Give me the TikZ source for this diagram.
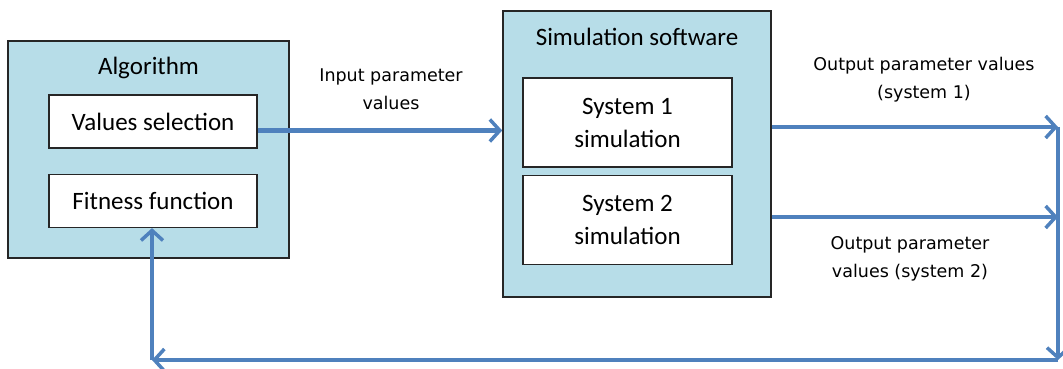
\documentclass[tikz,border=0pt]{standalone}
\usepackage{fontspec}
\setmainfont{Carlito}
\newfontfamily\labelfont{DejaVu Sans}
\usetikzlibrary{positioning}
\usetikzlibrary{calc}
\usetikzlibrary{arrows.meta}

\definecolor{boxblue}{RGB}{183,221,232}
\definecolor{arrowblue}{RGB}{79,129,189}

\begin{document}
\begin{tikzpicture}[x=1pt, y=1pt,
    OUTER/.style={rectangle, draw=black!85, fill=boxblue, line width=1.6pt, inner sep=0pt},
    INNER/.style={rectangle, draw=black!85, fill=white, line width=1.4pt, minimum width=208pt, align=center, inner sep=0pt, font=\fontsize{25}{33}\selectfont},
    TITLE/.style={font=\fontsize{25}{28}\selectfont},
    LBL/.style={align=center, font=\labelfont\fontsize{17.5}{28}\selectfont},
    FLOW/.style={arrowblue, line width=4.5pt, -{Straight Barb[length=10pt,width=22pt,line width=3.5pt]}}]

    \useasboundingbox (0,0) rectangle (1063,369);

    % algorithm block
    \node[OUTER, minimum width=281pt, minimum height=217pt] (alg) at (148.5,219.5) {};
    \node[TITLE] (algT) at (148.5,301) {Algorithm};
    \node[INNER, minimum height=53pt] (vals) at (153,247.5) {Values selection};
    \node[INNER, minimum height=53pt, below = 25pt of vals] (fit) {Fitness function};

    % simulation block
    \node[OUTER, minimum width=268pt, minimum height=286pt] (sim) at (637,215) {};
    \node[TITLE] (simT) at (637,332) {Simulation software};
    \node[INNER, minimum width=209pt, minimum height=89pt] (sys1) at (627.5,246.5)
        {System 1\\simulation};
    \node[INNER, minimum width=209pt, minimum height=89pt, below = 7pt of sys1] (sys2)
        {System 2\\simulation};

    % labels
    \node[LBL] (inLbl) at (391,280) {Input parameter\\values};
    \node[LBL] (out1Lbl) at (924,289) {Output parameter values\\(system 1)};
    \node[LBL] (out2Lbl) at (910,110) {Output parameter\\values (system 2)};

    \coordinate (o1) at (1058,242);
    \coordinate (o2) at (1058,152);
    \coordinate (rb) at (1058,9);
    \coordinate (lb) at (152,9);

    \draw[FLOW] ([yshift=-9pt]vals.east) -- ([yshift=-9pt]vals.east -| sim.west);
    \draw[FLOW] (sim.east |- o1) -- (o1);
    \draw[FLOW] (sim.east |- o2) -- (o2);
    \draw[FLOW] (o1) -- (rb);
    \draw[FLOW] (rb) -- (lb);
    \draw[FLOW] (lb) -- (lb |- fit.south);
\end{tikzpicture}
\end{document}
